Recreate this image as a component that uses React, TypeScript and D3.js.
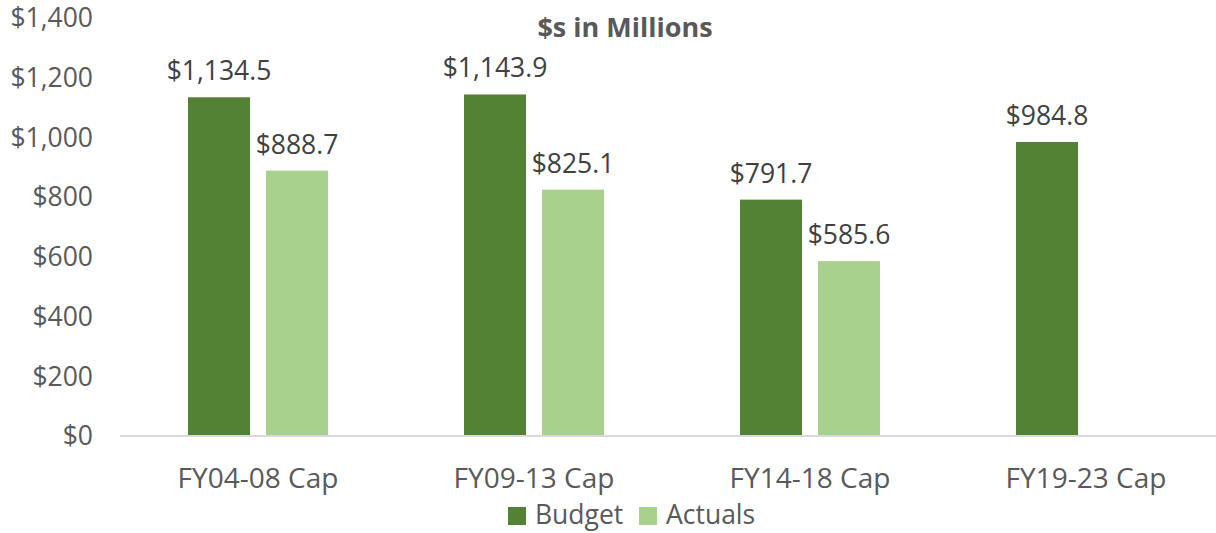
import React from "react";
import * as d3 from "d3";

const categories = ["FY04-08 Cap", "FY09-13 Cap", "FY14-18 Cap", "FY19-23 Cap"];
const budget = [1134.5, 1143.9, 791.7, 984.8];
const actuals: (number | null)[] = [888.7, 825.1, 585.6, null];
const yTicks = [0, 200, 400, 600, 800, 1000, 1200, 1400];
const seriesNames = ["Budget", "Actuals"];
const colors = ["#548235", "#A9D18E"];

const W = 1216;
const H = 533;
const FONT = "'Open Sans', 'Liberation Sans', sans-serif";

export default function App() {
  const x = d3.scaleBand<string>().domain(categories).range([120, 1224]).paddingInner(0).paddingOuter(0);
  const y = d3.scaleLinear().domain([0, 1400]).range([436, 18]);
  const barW = 62;
  const gap = 16;
  const fmt = (v: number) => "$" + d3.format(",.1f")(v);
  const tickFmt = (v: number) => "$" + d3.format(",")(v);

  const series = [budget, actuals];

  return (
    <svg width={W} height={H} style={{ display: "block", position: "absolute", left: 0, top: 0 }} fontFamily={FONT}>
      <rect width={W} height={H} fill="#fff" />
      <text x={625} y={37} textAnchor="middle" fontSize={27} fontWeight="bold" fill="#595959">
        $s in Millions
      </text>
      {yTicks.map((t) => (
        <text key={t} x={93} y={y(t)} dy="0.35em" textAnchor="end" fontSize={26.5} fill="#595959">
          {tickFmt(t)}
        </text>
      ))}
      {categories.map((c, i) => {
        const cx = (x(c) as number) + x.bandwidth() / 2;
        return (
          <g key={c}>
            {series.map((s, si) => {
              const v = s[i];
              if (v == null) return null;
              const bx = si === 0 ? cx - gap / 2 - barW : cx + gap / 2;
              return (
                <g key={si}>
                  <rect x={bx} y={y(v)} width={barW} height={y(0) - y(v)} fill={colors[si]} />
                  <text x={bx + barW / 2} y={y(v) - 17} textAnchor="middle" fontSize={26.5} fill="#404040">
                    {fmt(v)}
                  </text>
                </g>
              );
            })}
            <text x={cx} y={488} textAnchor="middle" fontSize={28} fill="#595959">
              {c}
            </text>
          </g>
        );
      })}
      <line x1={120} x2={W} y1={y(0)} y2={y(0)} stroke="#D9D9D9" strokeWidth={2} />
      {seriesNames.map((n, i) => {
        const lx = i === 0 ? 508 : 639;
        return (
          <g key={n}>
            <rect x={lx} y={507} width={18} height={18} fill={colors[i]} />
            <text x={lx + 27} y={524} fontSize={26.5} fill="#595959">
              {n}
            </text>
          </g>
        );
      })}
    </svg>
  );
}
